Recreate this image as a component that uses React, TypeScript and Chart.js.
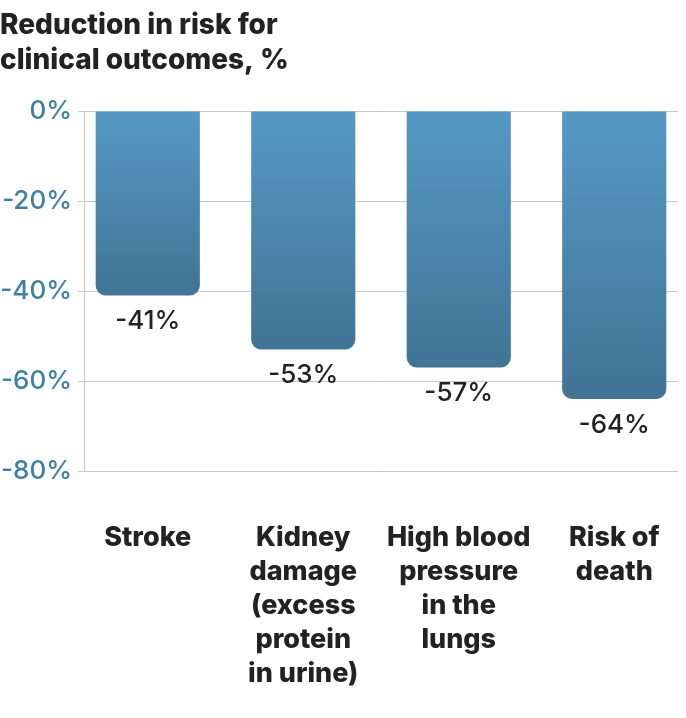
import React, { useEffect, useRef } from 'react';
import Chart from 'chart.js/auto';

// categories (multi-line, as in the figure)
const categories: string[][] = [
  ['Stroke'],
  ['Kidney', 'damage', '(excess', 'protein', 'in urine)'],
  ['High blood', 'pressure', 'in the', 'lungs'],
  ['Risk of', 'death'],
];
const reduction: number[] = [-41, -53, -57, -64];
const yTicks: number[] = [0, -20, -40, -60, -80];
const titleLines: string[] = ['Reduction in risk for', 'clinical outcomes, %'];

const FONT = 'Inter, "Noto Sans", sans-serif';

// values under each bar
const valueLabels = {
  id: 'valueLabels',
  afterDatasetsDraw(chart: any) {
    const ctx = chart.ctx;
    const meta = chart.getDatasetMeta(0);
    ctx.save();
    ctx.font = `500 26px ${FONT}`;
    ctx.fillStyle = '#222222';
    ctx.textAlign = 'center';
    ctx.textBaseline = 'middle';
    meta.data.forEach((bar: any, i: number) => {
      ctx.fillText(reduction[i] + '%', bar.x, bar.y + 26);
    });
    ctx.restore();
  },
};

const App = () => {
  const chartRef = useRef<HTMLCanvasElement>(null);
  const chartInstanceRef = useRef<Chart>();

  useEffect(() => {
    document.body.style.margin = '0';
    if (chartRef.current) {
      const ctx = chartRef.current.getContext('2d');
      if (ctx) {
        if (chartInstanceRef.current) {
          chartInstanceRef.current.destroy();
        }

        chartInstanceRef.current = new Chart(ctx, {
          type: 'bar',
          data: {
            datasets: [{
              label: 'Reduction',
              data: reduction.map((v, i) => ({ x: i, y: v })),
              backgroundColor: (c: any) => {
                const chart = c.chart;
                const y = chart.scales.y;
                if (!y || c.raw == null) return '#4c87ae';
                const top = y.getPixelForValue(0);
                const bottom = y.getPixelForValue(c.raw.y);
                if (!isFinite(top) || !isFinite(bottom) || top === bottom) return '#4c87ae';
                const g = chart.ctx.createLinearGradient(0, top, 0, bottom);
                g.addColorStop(0, '#5699c5');
                g.addColorStop(1, '#417495');
                return g;
              },
              borderRadius: 10,
              borderSkipped: 'start',
              categoryPercentage: 1,
              barPercentage: 0.67,
            }],
          },
          options: {
            animation: false,
            responsive: false,
            layout: { padding: { left: 0, right: 8, top: 0, bottom: 0 } },
            plugins: {
              legend: { display: false },
              tooltip: { enabled: false },
              title: {
                display: true,
                text: titleLines,
                align: 'start',
                color: '#222222',
                font: { family: FONT, size: 28, weight: 800, lineHeight: 1.25 },
                padding: { top: 8, bottom: 33 },
              },
            },
            scales: {
              x: {
                type: 'linear',
                min: -0.41,
                max: 3.41,
                offset: false,
                grid: { display: false },
                border: { display: false },
                ticks: {
                  stepSize: 1,
                  includeBounds: false,
                  autoSkip: false,
                  maxRotation: 0,
                  minRotation: 0,
                  padding: 42,
                  color: '#222222',
                  font: { family: FONT, size: 27, weight: 800, lineHeight: '34px' },
                  callback: (v: any) => categories[v] ?? '',
                },
                afterFit: (scale: any) => {
                  scale.height = 247;
                  scale.paddingLeft = 0;
                  scale.paddingRight = 0;
                },
              },
              y: {
                min: -80,
                max: 0,
                afterBuildTicks: (scale: any) => {
                  scale.ticks = yTicks.map((v) => ({ value: v }));
                },
                grid: { color: '#c8c8c8', lineWidth: 1, tickLength: 6 },
                border: { display: true, color: '#c8c8c8' },
                ticks: {
                  padding: 6,
                  color: '#3f80a3',
                  font: { family: FONT, size: 26, weight: 500 },
                  callback: (v: any) => v + '%',
                },
                afterFit: (scale: any) => { scale.width = 84; },
              },
            },
          },
          plugins: [valueLabels],
        });
      }
    }

    return () => {
      if (chartInstanceRef.current) {
        chartInstanceRef.current.destroy();
      }
    };
  }, []);

  return (
    <div>
      <canvas ref={chartRef} width={686} height={718} />
    </div>
  );
};

export default App;
